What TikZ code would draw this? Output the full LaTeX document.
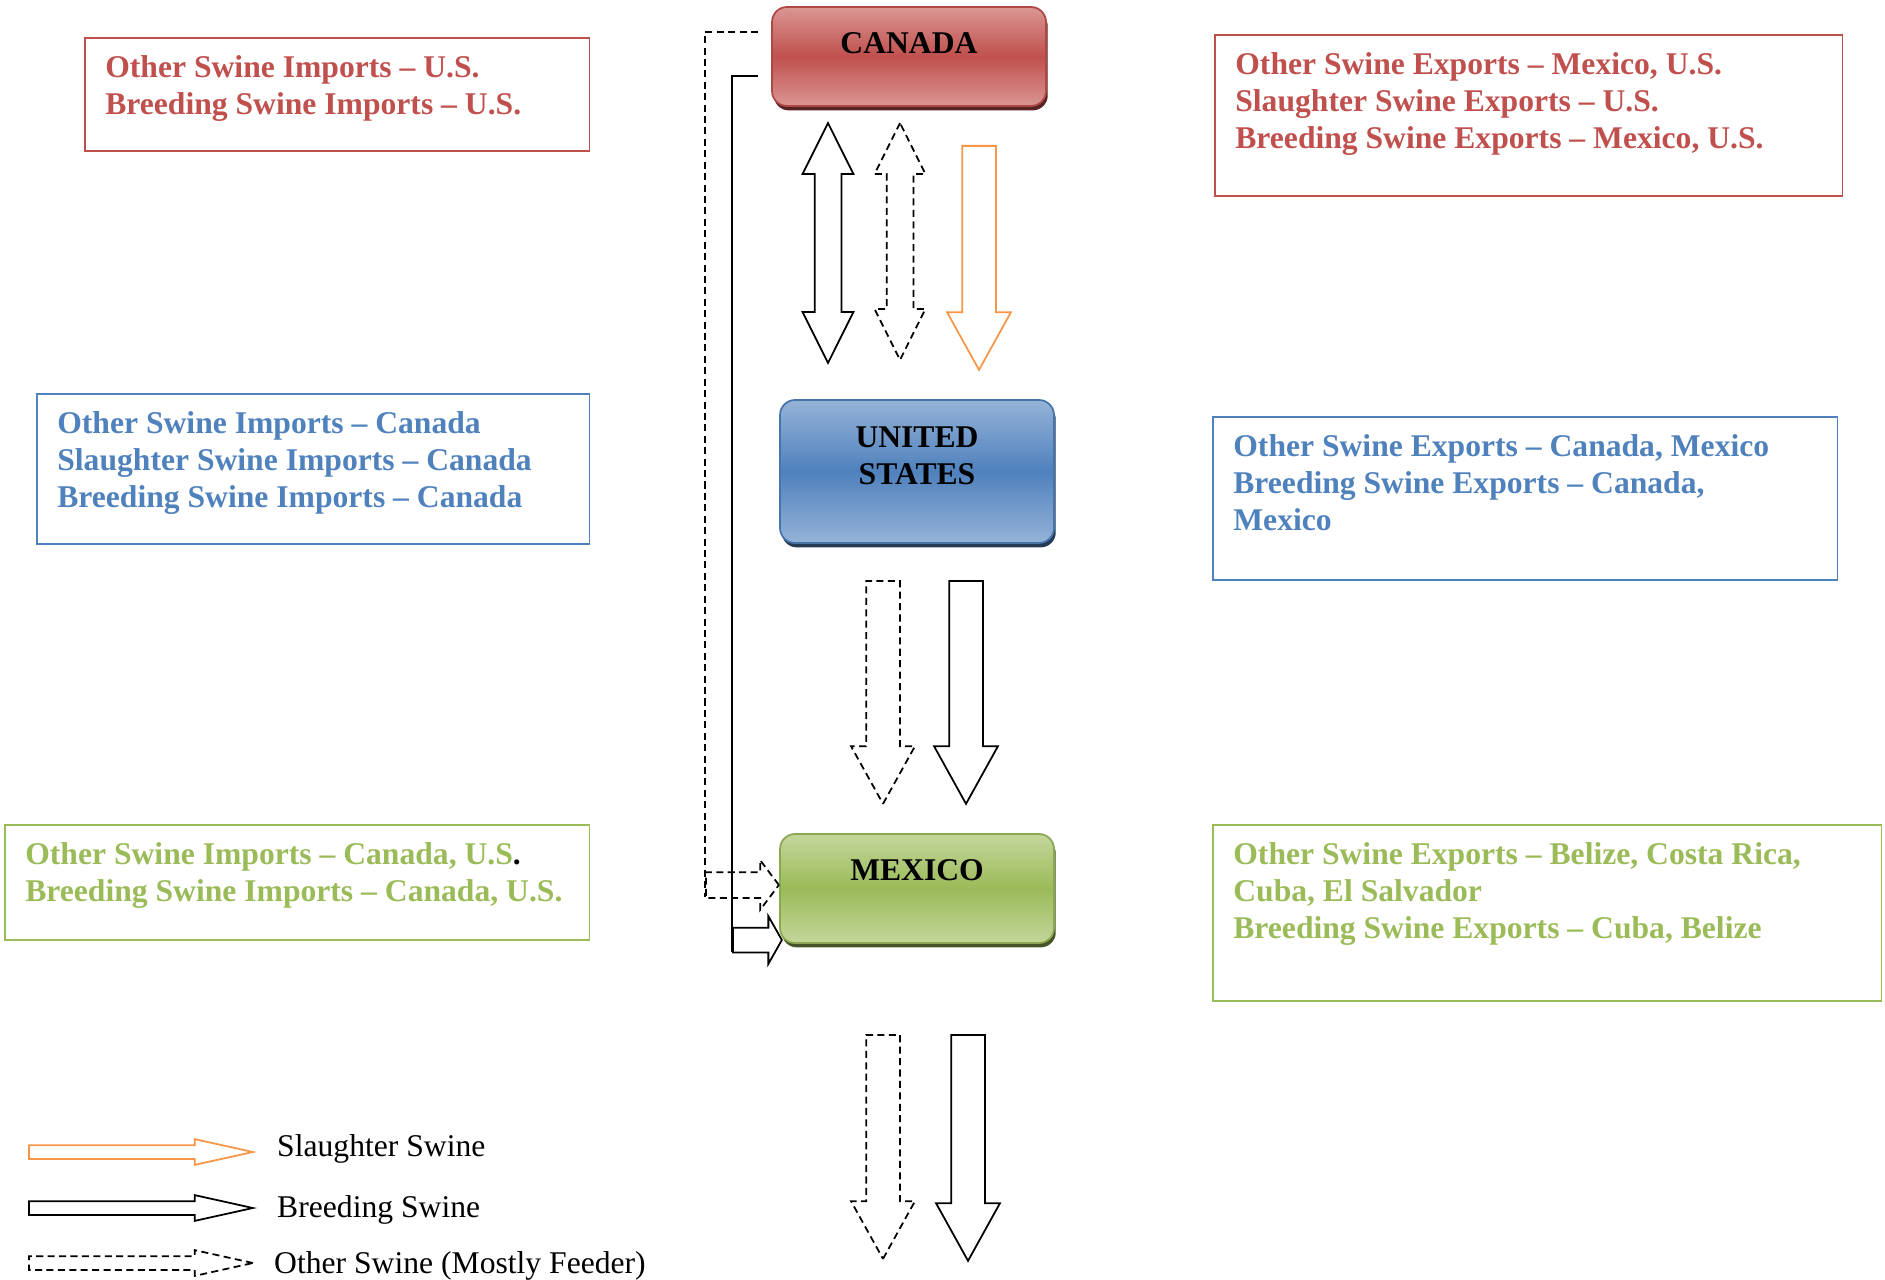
\documentclass[tikz,border=0pt]{standalone}
\usepackage{fontspec}
\setmainfont{Liberation Serif}
\usepackage{tikz}
\usetikzlibrary{
    shapes.arrows,
    shadows,
    positioning,
    calc
}
\definecolor{canred}{HTML}{C0504D}
\definecolor{canredlt}{HTML}{DA9694}
\definecolor{usblue}{HTML}{4F81BD}
\definecolor{usbluelt}{HTML}{95B3D7}
\definecolor{mxgreen}{HTML}{9BBB59}
\definecolor{mxgreenlt}{HTML}{C3D69B}
\definecolor{slorange}{HTML}{F79646}
\tikzstyle{country} = [
    rectangle,
    rounded corners=0.3cm,
    minimum width=5.48cm,
    line width=1pt,
    inner sep=0pt
]
\tikzstyle{countrylbl} = [
    font=\fontsize{18}{21}\selectfont\bfseries,
    align=center,
    inner sep=0pt
]
\tikzstyle{infobox} = [
    rectangle,
    line width=0.9pt,
    anchor=north west,
    inner sep=0pt
]
\tikzstyle{infotext} = [
    font=\fontsize{18}{21}\selectfont\bfseries,
    align=left,
    inner sep=0pt
]
\tikzstyle{legtext} = [
    font=\fontsize{18}{21}\selectfont,
    inner sep=0pt
]
\tikzstyle{feeder} = [
    dash pattern=on 4pt off 2.5pt
]
\tikzstyle{flowboth} = [
    double arrow,
    shape border rotate=90,
    draw,
    line width=1pt,
    inner sep=0.25cm,
    double arrow head extend=0.24cm,
    double arrow tip angle=53
]
\tikzstyle{flowdown} = [
    single arrow,
    shape border rotate=270,
    anchor=tail,
    draw,
    line width=1pt,
    inner sep=0.32cm,
    single arrow head extend=0.30cm,
    single arrow tip angle=58
]
\tikzstyle{legarrow} = [
    single arrow,
    anchor=tail,
    draw,
    line width=1pt,
    inner sep=0.12cm,
    minimum height=4.48cm,
    single arrow head extend=0.12cm,
    single arrow tip angle=25
]

\begin{document}
\begin{tikzpicture}[x=0.02cm, y=-0.02cm]
    \useasboundingbox (0,0) rectangle (1885,1280);

    % Countries
    \node[country, minimum height=1.98cm, top color=canredlt, bottom color=canredlt, middle color=canred,
          draw=canred!90!black, drop shadow={shadow xshift=1pt, shadow yshift=-2.5pt, opacity=1, fill=canred!45!black}]
          (canada) at (909,56.5) {};
    \node[country, minimum height=2.86cm, top color=usbluelt, bottom color=usbluelt, middle color=usblue,
          draw=usblue!90!black, drop shadow={shadow xshift=1pt, shadow yshift=-2.5pt, opacity=1, fill=usblue!45!black}]
          (usa) at (917,471.5) {};
    \node[country, minimum height=2.18cm, top color=mxgreenlt, bottom color=mxgreenlt, middle color=mxgreen,
          draw=mxgreen!90!black, drop shadow={shadow xshift=1pt, shadow yshift=-2.5pt, opacity=1, fill=mxgreen!45!black}]
          (mexico) at (917,888.5) {};
    \node[countrylbl, below=0.52cm of canada.north] (canadaLbl) {CANADA};
    \node[countrylbl, below=0.54cm of usa.north] (usaLbl) {UNITED\\STATES};
    \node[countrylbl, below=0.52cm of mexico.north] (mexicoLbl) {MEXICO};

    % Trade partners
    \node[infobox, draw=canred, minimum width=10.10cm, minimum height=2.26cm] (caImp) at (84,37) {};
    \node[infotext, text=canred, below right=0.37cm and 0.42cm of caImp.north west] (caImpTxt)
        {Other Swine Imports -- U.S.\\Breeding Swine Imports -- U.S.};
    \node[infobox, draw=canred, minimum width=12.56cm, minimum height=3.22cm] (caExp) at (1214,34) {};
    \node[infotext, text=canred, below right=0.37cm and 0.42cm of caExp.north west] (caExpTxt)
        {Other Swine Exports -- Mexico, U.S.\\Slaughter Swine Exports -- U.S.\\Breeding Swine Exports -- Mexico, U.S.};
    \node[infobox, draw=usblue, minimum width=11.06cm, minimum height=3.00cm] (usImp) at (36,393) {};
    \node[infotext, text=usblue, below right=0.37cm and 0.42cm of usImp.north west] (usImpTxt)
        {Other Swine Imports -- Canada\\Slaughter Swine Imports -- Canada\\Breeding Swine Imports -- Canada};
    \node[infobox, draw=usblue, minimum width=12.50cm, minimum height=3.26cm] (usExp) at (1212,416) {};
    \node[infotext, text=usblue, below right=0.37cm and 0.42cm of usExp.north west] (usExpTxt)
        {Other Swine Exports -- Canada, Mexico\\Breeding Swine Exports -- Canada,\\Mexico};
    \node[infobox, draw=mxgreen, minimum width=11.70cm, minimum height=2.30cm] (mxImp) at (4,824) {};
    \node[infotext, text=mxgreen, below right=0.37cm and 0.42cm of mxImp.north west] (mxImpTxt)
        {Other Swine Imports -- Canada, U.S{\color{black}.}\\Breeding Swine Imports -- Canada, U.S.};
    \node[infobox, draw=mxgreen, minimum width=13.38cm, minimum height=3.52cm] (mxExp) at (1212,824) {};
    \node[infotext, text=mxgreen, below right=0.37cm and 0.42cm of mxExp.north west] (mxExpTxt)
        {Other Swine Exports -- Belize, Costa Rica,\\Cuba, El Salvador\\Breeding Swine Exports -- Cuba, Belize};

    % Flows Canada - U.S.
    \node[flowboth, minimum height=4.80cm] (brdCU) at (828,243) {};
    \node[flowboth, feeder, minimum height=4.74cm] (othCU) at (900,241.5) {};
    \node[flowdown, draw=slorange, minimum height=4.48cm] (slCU) at (979,145) {};

    % Flows U.S. - Mexico
    \node[flowdown, feeder, minimum height=4.46cm] (othUM) at (883,580) {};
    \node[flowdown, minimum height=4.46cm] (brdUM) at (966,580) {};

    % Flows out of Mexico
    \node[flowdown, feeder, minimum height=4.48cm] (othMX) at (883,1034) {};
    \node[flowdown, minimum height=4.52cm] (brdMX) at (968,1034) {};

    % Canada direct to Mexico
    \node[single arrow, anchor=tail, draw, feeder, line width=1pt, inner sep=0.24cm, minimum height=1.46cm,
          single arrow head extend=0.24cm, single arrow tip angle=106] (othIn) at (705,885) {};
    \node[single arrow, anchor=tail, draw, line width=1pt, inner sep=0.23cm, minimum height=0.98cm,
          single arrow head extend=0.23cm, single arrow tip angle=121] (brdIn) at (732,940) {};
    \coordinate (othStart) at (758,32);
    \coordinate (brdStart) at (758,76);
    \draw[feeder, line width=1pt] (othStart) -| ($(othIn.tail)+(0,12)$);
    \draw[line width=1pt] (brdStart) -| ($(brdIn.tail)+(0,11.5)$);

    % Legend
    \node[legarrow, draw=slorange] (legSl) at (28,1152) {};
    \node[legarrow] (legBrd) at (28,1208) {};
    \node[legarrow, feeder] (legOth) at (28,1263) {};
    \node[legtext, right=0.40cm of legSl.tip, yshift=1.5pt] (legSlTxt) {Slaughter Swine};
    \node[legtext, right=0.40cm of legBrd.tip, yshift=-1pt] (legBrdTxt) {Breeding Swine};
    \node[legtext, right=0.34cm of legOth.tip, yshift=-1.5pt] (legOthTxt) {Other Swine (Mostly Feeder)};
\end{tikzpicture}
\end{document}
